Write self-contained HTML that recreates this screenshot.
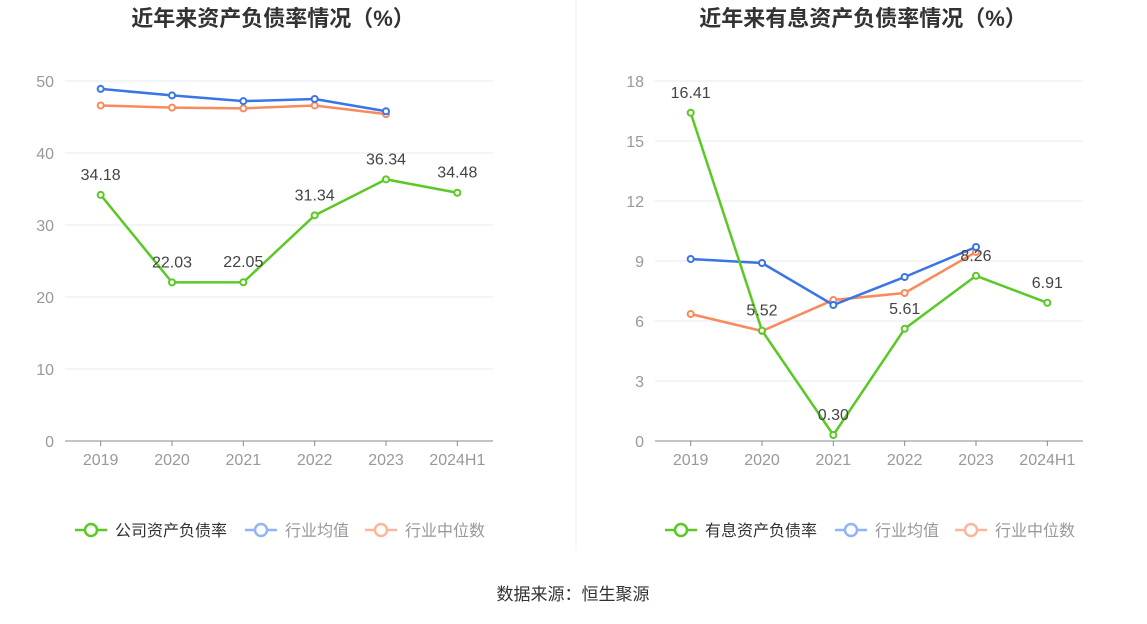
<!DOCTYPE html>
<html><head><meta charset="utf-8">
<style>
body{margin:0;background:#fff;width:1147px;height:619px;overflow:hidden;font-family:"Liberation Sans","Noto Sans CJK SC",sans-serif;}
svg text{font-family:"Liberation Sans","Noto Sans CJK SC",sans-serif;}
</style></head><body>
<svg id="s" width="1147" height="619">
<line x1="576" y1="0" x2="576" y2="550" stroke="#eeeeee"/>
<text x="573" y="600" font-size="17" fill="#333" text-anchor="middle">数据来源：恒生聚源</text>
</svg>
<script>
const categories=["2019","2020","2021","2022","2023","2024H1"];
const leftCompany=[34.18,22.03,22.05,31.34,36.34,34.48];
const leftMean=[48.9,48.0,47.2,47.5,45.8];
const leftMedian=[46.6,46.3,46.2,46.6,45.4];
const leftTicks=[0,10,20,30,40,50];
const rightCompany=[16.41,5.52,0.30,5.61,8.26,6.91];
const rightMean=[9.1,8.9,6.8,8.2,9.7];
const rightMedian=[6.35,5.5,7.05,7.4,9.45];
const rightTicks=[0,3,6,9,12,15,18];
const svg=document.getElementById('s');
const NS='http://www.w3.org/2000/svg';
function mk(tag,attrs,parent){const e=document.createElementNS(NS,tag);for(const k in attrs)e.setAttribute(k,attrs[k]);(parent||svg).appendChild(e);return e;}
function chart(o){
  const g=mk('g',{});
  
  
  const x0=o.x0,x1=o.x0+428,yb=441,yt=81,max=o.ticks[o.ticks.length-1];
  const X=i=>x0+(i+0.5)*(428/categories.length);
  const Y=v=>yb-(v/max)*(yb-yt);
  const t=mk('text',{x:x0+208,y:26,'font-size':22,'font-weight':'bold',fill:'#333','text-anchor':'middle'},g);
  t.textContent=o.title;
  
  
  o.ticks.forEach(v=>{
    if(v>0){const l=mk('line',{x1:x0,x2:x1,y1:Y(v),y2:Y(v),stroke:'#e6e9f0'},g);
    
    }
    const tx=mk('text',{x:x0-11,y:Y(v)+6,'font-size':16,fill:'#999','text-anchor':'end'},g);
    tx.textContent=v;
    
    
  });
  const ax=mk('line',{x1:x0,x2:x1,y1:yb,y2:yb,stroke:'#888'},g);
  
  
  categories.forEach((c,i)=>{
    const tk=mk('line',{x1:X(i),x2:X(i),y1:yb,y2:yb+5,stroke:'#888'},g);
    
    
    const tx=mk('text',{x:X(i),y:465,'font-size':16,fill:'#999','text-anchor':'middle'},g);
    tx.textContent=c;
    
    
  });
  function series(vals,color,name,labels){
    const p=mk('polyline',{points:vals.map((v,i)=>X(i)+','+Y(v)).join(' '),fill:'none',stroke:color,'stroke-width':2.5},g);
    
    
    vals.forEach((v,i)=>{
      const c=mk('circle',{cx:X(i),cy:Y(v),r:3,fill:'#fff',stroke:color,'stroke-width':2},g);
      
      
      if(labels){const l=mk('text',{x:X(i),y:Y(v)-15,'font-size':16,fill:'#444','text-anchor':'middle'},g);
      l.textContent=v.toFixed(2);
      
      }
    });
  }
  series(o.median,'#f98a5c','industry-median',false);
  series(o.mean,'#3a75e8','industry-mean',false);
  series(o.company,'#5ac825','company',true);
  const legs=[[o.legend,'#5ac825','#333',x0+10],['行业均值','#93b4f3','#999',x0+180],['行业中位数','#fbb79c','#999',x0+300]];
  legs.forEach(([txt,col,tc,lx])=>{
    const lg=mk('g',{},g);
    
    
    mk('line',{x1:lx,x2:lx+32,y1:530,y2:530,stroke:col,'stroke-width':2.5},lg);
    mk('circle',{cx:lx+16,cy:530,r:6,fill:'#fff',stroke:col,'stroke-width':2.5},lg);
    const tt=mk('text',{x:lx+40,y:536,'font-size':16,fill:tc},lg);tt.textContent=txt;
  });
}
chart({name:'asset-liability-chart',x0:65,title:'近年来资产负债率情况（%）',ticks:leftTicks,company:leftCompany,mean:leftMean,median:leftMedian,legend:'公司资产负债率'});
chart({name:'interest-liability-chart',x0:655,title:'近年来有息资产负债率情况（%）',ticks:rightTicks,company:rightCompany,mean:rightMean,median:rightMedian,legend:'有息资产负债率'});
</script>
</body></html>
